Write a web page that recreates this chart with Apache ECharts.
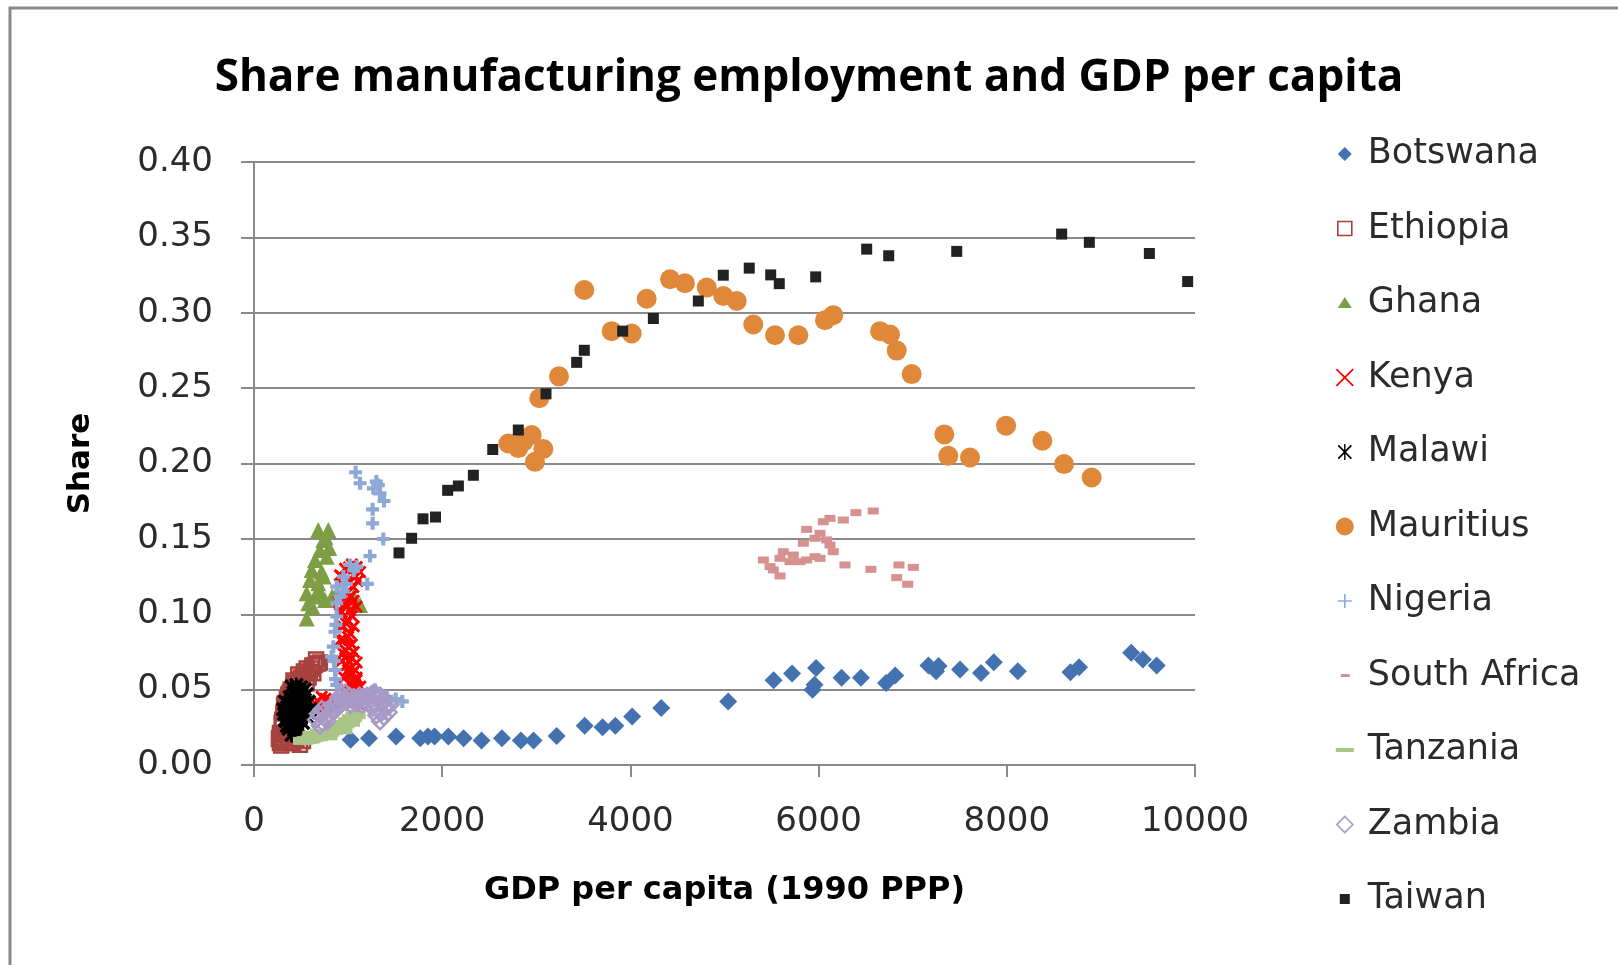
<!DOCTYPE html>
<html>
<head>
<meta charset="utf-8">
<script src="https://cdn.jsdelivr.net/npm/echarts@6/dist/echarts.min.js"></script>
<style>
  html, body { margin: 0; padding: 0; background: #ffffff; }
  #chart { width: 1618px; height: 965px; }
</style>
</head>
<body>
<div id="chart"></div>
<script>
// Share of manufacturing in employment vs. GDP per capita (1990 PPP)

const countries = ['Botswana', 'Ethiopia', 'Ghana', 'Kenya', 'Malawi', 'Mauritius',
  'Nigeria', 'South Africa', 'Tanzania', 'Zambia', 'Taiwan'];

const xTicks = [0, 2000, 4000, 6000, 8000, 10000];
const yTicks = ['0.00', '0.05', '0.10', '0.15', '0.20', '0.25', '0.30', '0.35', '0.40'];

// [GDP per capita, manufacturing share]
const botswana = [[1027,0.0167],[1222,0.0178],[1510,0.0189],[1767,0.0178],[1848,0.0189],[1919,0.0189],[2065,0.0189],[2228,0.0178],[2418,0.0162],[2635,0.0178],[2836,0.0162],[2971,0.0162],[3216,0.0193],[3514,0.026],[3704,0.0251],[3840,0.026],[4019,0.0322],[4328,0.0378],[5039,0.0422],[5522,0.0562],[5718,0.0607],[5973,0.0644],[5957,0.0533],[5935,0.05],[6244,0.0578],[6450,0.0578],[6716,0.0544],[6814,0.0593],[7167,0.066],[7275,0.0656],[7248,0.0622],[7503,0.0633],[7726,0.0611],[7862,0.0682],[8117,0.0622],[8676,0.0616],[8768,0.0649],[9322,0.0744],[9446,0.07],[9593,0.066]];

const ethiopia = [[276,0.0146],[329,0.0146],[417,0.0146],[488,0.0135],[450,0.0170],[520,0.0160],[276,0.0212],[294,0.0279],[312,0.0345],[329,0.0411],[365,0.0467],[417,0.0522],[471,0.0566],[524,0.0597],[595,0.0619],[648,0.0663],[683,0.0674],[630,0.0608],[559,0.0541],[265,0.0170],[300,0.0250],[340,0.0380],[390,0.0500],[440,0.0545],[500,0.0580],[560,0.0640],[620,0.0660],[300,0.0160],[360,0.0150],[270,0.0180],[290,0.0130],[320,0.0200],[380,0.0180],[420,0.0200],[300,0.0300],[320,0.0400],[350,0.0440],[380,0.0480],[420,0.0560],[470,0.0600],[530,0.0620],[580,0.0580],[610,0.0640],[660,0.0700],[700,0.0680]];

const ghana = [[683,0.1559],[790,0.1559],[737,0.1493],[760,0.1510],[701,0.1426],[800,0.1440],[648,0.1360],[772,0.1382],[613,0.1293],[719,0.1282],[595,0.1227],[683,0.1205],[740,0.1250],[559,0.1139],[648,0.1117],[700,0.1150],[1056,0.1117],[577,0.1073],[755,0.1095],[1091,0.1073],[560,0.0971],[620,0.1050],[1127,0.1061],[830,0.1120],[880,0.1140]];

const kenya = [[967,0.1302],[1091,0.1313],[1127,0.1280],[1040,0.1330],[914,0.1258],[1002,0.1225],[932,0.1203],[1056,0.1180],[1100,0.1220],[967,0.1070],[932,0.1015],[1020,0.1026],[990,0.1150],[950,0.1110],[1060,0.1090],[967,0.1061],[914,0.1006],[992,0.0962],[949,0.0918],[1020,0.0873],[956,0.0829],[1002,0.0785],[949,0.0741],[1038,0.0708],[985,0.0663],[1073,0.0630],[1020,0.0597],[1091,0.0564],[1038,0.0531],[1109,0.0509],[1056,0.0498],[980,0.0940],[1000,0.0850],[975,0.0760],[1010,0.0690],[1050,0.0610],[1070,0.0540],[807,0.0431],[719,0.0453],[648,0.0409],[754,0.0387],[683,0.0365],[1073,0.0321],[1100,0.0470],[930,0.1250],[1080,0.1250],[1010,0.1310],[940,0.1130],[1030,0.1120],[1090,0.1050],[900,0.1080],[1040,0.0990],[930,0.0920],[1060,0.0920],[1040,0.0800],[920,0.0830],[1060,0.0750],[930,0.0690],[970,0.0710],[1090,0.0680],[960,0.0580],[1000,0.0630],[1010,0.0540],[1090,0.0580],[1130,0.0520],[1000,0.0470],[1080,0.0440],[1120,0.0400],[760,0.0440],[850,0.0400],[620,0.0380],[700,0.0410]];

const malawi = [[400,0.0520],[450,0.0530],[500,0.0515],[540,0.0500],[560,0.0470],[420,0.0480],[480,0.0470],[380,0.0450],[330,0.0420],[440,0.0430],[520,0.0440],[580,0.0420],[350,0.0380],[400,0.0390],[470,0.0380],[540,0.0380],[600,0.0370],[320,0.0340],[380,0.0330],[440,0.0340],[500,0.0330],[560,0.0320],[340,0.0290],[400,0.0280],[460,0.0290],[520,0.0280],[370,0.0240],[430,0.0230],[490,0.0240],[400,0.0200],[460,0.0195],[350,0.0260],[310,0.0370],[420,0.0360],[480,0.0410],[360,0.0410],[520,0.0360],[450,0.0260],[510,0.0480],[430,0.0500],[380,0.0360],[580,0.0350],[330,0.0300]];

const mauritius = [[2703,0.2133],[2809,0.2102],[2862,0.2144],[2951,0.2189],[3075,0.2096],[2986,0.2011],[3032,0.2433],[3241,0.2578],[3510,0.3151],[3801,0.2878],[4014,0.2862],[4173,0.3093],[4421,0.3222],[4580,0.3196],[4811,0.3167],[4987,0.3111],[5130,0.3078],[5306,0.2922],[5537,0.2851],[5785,0.2851],[6068,0.2951],[6156,0.2984],[6653,0.2878],[6759,0.2856],[6830,0.2749],[6989,0.2593],[7336,0.2193],[7378,0.2051],[7609,0.2040],[7992,0.2251],[8378,0.2151],[8608,0.1996],[8902,0.1907]];

const nigeria = [[1080,0.1942],[1127,0.1869],[1268,0.1835],[1321,0.1857],[1300,0.1880],[1339,0.1802],[1382,0.1751],[1261,0.1696],[1261,0.1603],[1374,0.1499],[1233,0.1386],[1204,0.1201],[1020,0.1327],[1091,0.1316],[1060,0.1290],[879,0.1183],[949,0.1150],[914,0.1117],[980,0.1200],[950,0.1250],[879,0.1073],[879,0.0985],[870,0.0930],[861,0.0884],[843,0.0785],[825,0.0718],[850,0.0690],[861,0.0630],[868,0.0570],[879,0.0531],[1286,0.0498],[1410,0.0453],[1505,0.0438],[1576,0.0422]];

const southAfrica = [[5413,0.1360],[5484,0.1316],[5519,0.1294],[5590,0.1254],[5625,0.1415],[5590,0.1371],[5696,0.1349],[5731,0.1393],[5802,0.1349],[5873,0.1360],[5962,0.1382],[6015,0.1371],[5838,0.1471],[5873,0.1563],[6015,0.1537],[5962,0.1504],[6085,0.1493],[6050,0.1614],[6121,0.1636],[6263,0.1625],[6397,0.1674],[6581,0.1685],[6121,0.1459],[6156,0.1415],[6280,0.1327],[6556,0.1298],[6854,0.1327],[7007,0.1311],[6830,0.1243],[6947,0.1199]];

const tanzania = [[520,0.0160],[560,0.0165],[600,0.0170],[640,0.0180],[680,0.0185],[720,0.0195],[760,0.0205],[800,0.0215],[840,0.0225],[880,0.0240],[920,0.0255],[960,0.0270],[1000,0.0290],[1040,0.0310],[1080,0.0330],[620,0.0200],[700,0.0215],[780,0.0190],[860,0.0260],[940,0.0230],[1020,0.0280]];

const zambia = [[660,0.0300],[700,0.0330],[730,0.0280],[760,0.0360],[800,0.0330],[830,0.0390],[870,0.0420],[900,0.0450],[930,0.0470],[970,0.0480],[1010,0.0460],[1060,0.0450],[1110,0.0440],[1160,0.0450],[1200,0.0460],[1250,0.0470],[1300,0.0450],[1350,0.0420],[1400,0.0390],[1430,0.0350],[1380,0.0320],[1340,0.0290],[1300,0.0330],[1260,0.0380],[1210,0.0410],[1150,0.0400],[1090,0.0410],[1030,0.0400],[980,0.0420],[920,0.0400],[860,0.0360],[780,0.0290],[700,0.0260],[1340,0.0460],[680,0.0340],[720,0.0370],[750,0.0310],[820,0.0360],[880,0.0410],[950,0.0440],[1040,0.0430],[1120,0.0460],[1180,0.0420],[1240,0.0430],[1280,0.0410],[1320,0.0370],[1360,0.0350],[1400,0.0430],[1450,0.0400],[1280,0.0480]];

const taiwan = [[1541,0.1407],[1675,0.1504],[1796,0.1633],[1929,0.1645],[2058,0.1822],[2172,0.1851],[2331,0.1922],[2537,0.2093],[2809,0.2222],[3103,0.2462],[3429,0.2671],[3510,0.2751],[3918,0.2878],[4244,0.2962],[4722,0.3078],[4987,0.3249],[5263,0.3296],[5491,0.3251],[5582,0.3193],[5969,0.3238],[6511,0.3422],[6745,0.3378],[7468,0.3407],[8583,0.3522],[8877,0.3467],[9515,0.3393],[9922,0.3207]];

// marker shapes
const X_MARK = 'path://M0,1.6 L1.6,0 L5,3.4 L8.4,0 L10,1.6 L6.6,5 L10,8.4 L8.4,10 L5,6.6 L1.6,10 L0,8.4 L3.4,5 Z';
const PLUS_MARK = 'path://M3.4,0 L6.6,0 L6.6,3.4 L10,3.4 L10,6.6 L6.6,6.6 L6.6,10 L3.4,10 L3.4,6.6 L0,6.6 L0,3.4 L3.4,3.4 Z';
const STAR_MARK = 'path://M0,1.6 L1.6,0 L5,3.4 L8.4,0 L10,1.6 L6.6,5 L10,8.4 L8.4,10 L5,6.6 L1.6,10 L0,8.4 L3.4,5 Z M4.1,0 L5.9,0 L5.9,10 L4.1,10 Z';

// legend icons, drawn inside a 20x20 box
const BOX = 'path://M0,0 Z M20,20 Z ';
const legendIcons = {
  'Botswana': BOX + 'M10,3 L17,10 L10,17 L3,10 Z',
  'Ethiopia': BOX + 'M3,3 L17,3 L17,17 L3,17 Z',
  'Ghana': BOX + 'M10,4 L17,15 L3,15 Z',
  'Kenya': BOX + 'M1,2.2 L2.2,1 L10,8.8 L17.8,1 L19,2.2 L11.2,10 L19,17.8 L17.8,19 L10,11.2 L2.2,19 L1,17.8 L8.8,10 Z',
  'Malawi': BOX + 'M2.8,4 L4,2.8 L10,8.8 L16,2.8 L17.2,4 L11.2,10 L17.2,16 L16,17.2 L10,11.2 L4,17.2 L2.8,16 L8.8,10 Z M9.3,2 L10.7,2 L10.7,18 L9.3,18 Z',
  'Mauritius': BOX + 'M1,10 A9,9 0 1,1 19,10 A9,9 0 1,1 1,10 Z',
  'Nigeria': BOX + 'M9.2,3 L10.8,3 L10.8,9.2 L17,9.2 L17,10.8 L10.8,10.8 L10.8,17 L9.2,17 L9.2,10.8 L3,10.8 L3,9.2 L9.2,9.2 Z',
  'South Africa': BOX + 'M6,8.5 L15,8.5 L15,11.5 L6,11.5 Z',
  'Tanzania': BOX + 'M1,8 L19,8 L19,12 L1,12 Z',
  'Zambia': BOX + 'M10,2 L18,10 L10,18 L2,10 Z',
  'Taiwan': BOX + 'M5,5 L15,5 L15,15 L5,15 Z'
};

const seriesData = [botswana, ethiopia, ghana, kenya, malawi, mauritius, nigeria, southAfrica, tanzania, zambia, taiwan];

const styles = [
  { symbol: 'diamond', size: 18, color: '#4472B0' },
  { symbol: 'rect', size: 14, color: 'rgba(255,255,255,0)', border: '#A8423F', bw: 2.5 },
  { symbol: 'triangle', size: 16, color: '#7D9E45' },
  { symbol: X_MARK, size: 13, color: '#FF0000' },
  { symbol: STAR_MARK, size: 15, color: '#000000' },
  { symbol: 'circle', size: 20, color: '#E0883A' },
  { symbol: PLUS_MARK, size: 13, color: '#8EA9D8' },
  { symbol: 'rect', size: [11, 7], color: '#D79191' },
  { symbol: 'rect', size: [20, 8], color: '#A9C587' },
  { symbol: 'diamond', size: 16, color: 'rgba(255,255,255,0)', border: '#A89AC6', bw: 2.5 },
  { symbol: 'rect', size: 11, color: '#222222' }
];

const series = countries.map((name, i) => {
  const s = styles[i];
  return {
    name: name,
    type: 'scatter',
    data: seriesData[i],
    symbol: s.symbol,
    symbolSize: s.size,
    itemStyle: {
      color: s.color,
      borderColor: s.border || s.color,
      borderWidth: s.bw || 0,
      opacity: 1
    },
    emphasis: { disabled: true },
    z: 2 + i
  };
});

const chart = echarts.init(document.getElementById('chart'), null, { renderer: 'canvas' });

chart.setOption({
  backgroundColor: '#ffffff',
  animation: false,
  title: {
    text: 'Share manufacturing employment and GDP per capita',
    left: 'center',
    top: 51,
    textStyle: {
      fontFamily: '"Open Sans", sans-serif',
      fontWeight: 'bold',
      fontSize: 44,
      color: '#000000'
    }
  },
  graphic: [{
    type: 'rect',
    silent: true,
    z: -10,
    shape: { x: 10, y: 8, width: 1700, height: 1100 },
    style: { fill: 'none', stroke: '#8a8a8a', lineWidth: 3 }
  }],
  legend: {
    orient: 'vertical',
    left: 1329,
    top: 129,
    itemWidth: 20,
    itemHeight: 20,
    itemGap: 34.5,
    selectedMode: false,
    data: countries.map(n => ({
      name: n,
      icon: legendIcons[n],
      itemStyle: (n === 'Ethiopia' || n === 'Zambia') ? { color: '#ffffff', borderWidth: 1.6 } : undefined
    })),
    textStyle: {
      fontFamily: '"DejaVu Sans", sans-serif',
      fontSize: 35,
      color: '#2b2b2b',
      lineHeight: 40,
      padding: [0, 0, 0, 8]
    }
  },
  grid: { left: 254, right: 423, top: 162, bottom: 200 },
  xAxis: {
    type: 'value',
    min: xTicks[0],
    max: xTicks[xTicks.length - 1],
    interval: xTicks[1] - xTicks[0],
    name: 'GDP per capita (1990 PPP)',
    nameLocation: 'middle',
    nameGap: 110,
    nameTextStyle: {
      fontFamily: '"DejaVu Sans", sans-serif',
      fontWeight: 'bold',
      fontSize: 32,
      color: '#000000'
    },
    axisLine: { show: true, lineStyle: { color: '#8a8a8a', width: 2 } },
    axisTick: { show: true, length: 12, lineStyle: { color: '#8a8a8a', width: 2 } },
    axisLabel: {
      margin: 40,
      fontFamily: '"DejaVu Sans", sans-serif',
      fontSize: 34,
      color: '#2b2b2b',
      formatter: v => String(v)
    },
    splitLine: { show: false }
  },
  yAxis: {
    type: 'value',
    min: 0,
    max: 0.4,
    interval: 0.05,
    name: 'Share',
    nameLocation: 'middle',
    nameRotate: 90,
    nameGap: 158,
    nameTextStyle: {
      fontFamily: '"DejaVu Sans", sans-serif',
      fontWeight: 'bold',
      fontSize: 31,
      color: '#000000'
    },
    axisLine: { show: true, lineStyle: { color: '#8a8a8a', width: 2 } },
    axisTick: { show: true, length: 13, lineStyle: { color: '#8a8a8a', width: 2 } },
    axisLabel: {
      margin: 41,
      fontFamily: '"DejaVu Sans", sans-serif',
      fontSize: 34,
      color: '#2b2b2b',
      formatter: v => yTicks[Math.round(v / 0.05)]
    },
    splitLine: { show: true, lineStyle: { color: '#8a8a8a', width: 2 } }
  },
  series: series
});
</script>
</body>
</html>
